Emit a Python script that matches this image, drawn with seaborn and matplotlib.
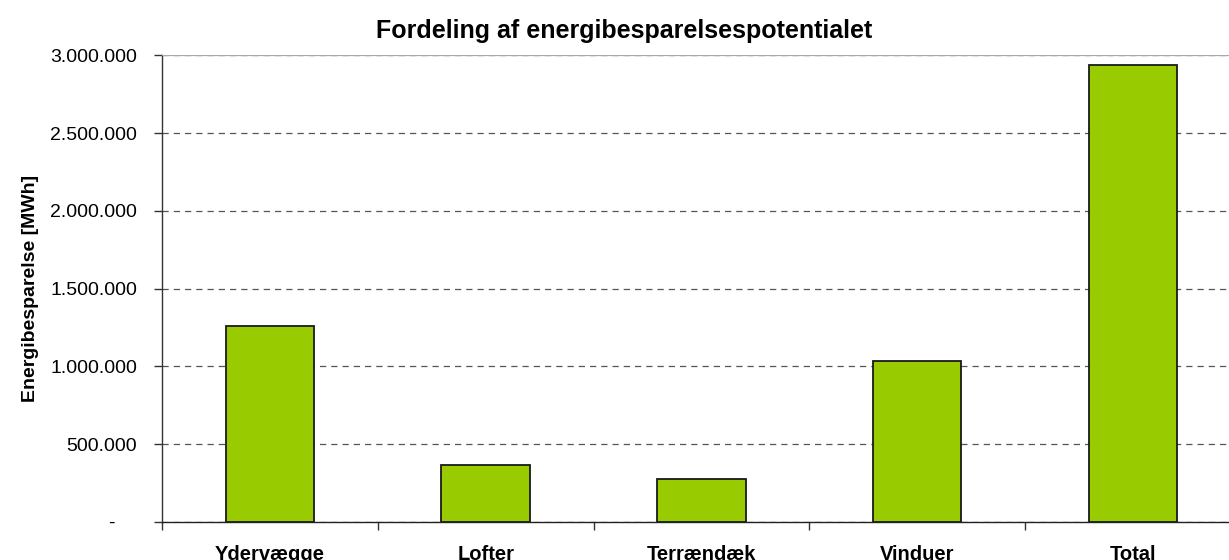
import numpy as np
import pandas as pd
import seaborn as sns
import matplotlib.pyplot as plt
from matplotlib.ticker import FuncFormatter, FixedLocator

categories = ['Ydervægge', 'Lofter', 'Terrændæk', 'Vinduer', 'Total']
savings = [1258000, 368000, 277000, 1035000, 2940000]
title = 'Fordeling af energibesparelsespotentialet'
ylabel = 'Energibesparelse [MWh]'

df = pd.DataFrame({'kategori': categories, 'besparelse': savings})

sns.set_style('white')
plt.rcParams['font.family'] = ['Liberation Sans', 'DejaVu Sans']
plt.rcParams['text.color'] = 'black'
plt.rcParams['xtick.color'] = 'black'
plt.rcParams['ytick.color'] = 'black'
plt.rcParams['axes.labelcolor'] = 'black'

fig = plt.figure(figsize=(12.29, 5.6), dpi=100)
# the plot area runs past the right edge of the picture, like the original
ax = fig.add_axes([0.1318, 0.0679, 0.8778, 0.8330])
ax.set_axisbelow(True)

sns.barplot(data=df, x='kategori', y='besparelse', color='#99CC00',
            edgecolor='#1a1a1a', linewidth=1.3, width=0.41, saturation=1,
            ax=ax, zorder=3)

ax.set_xlim(-0.5, len(categories) - 0.5)
ax.set_ylim(0, 3000000)
ax.set_yticks(np.arange(0, 3000001, 500000))

def thousands(v, pos):
    if v == 0:
        return '-    '
    return f'{int(v):,}'.replace(',', '.')

ax.yaxis.set_major_formatter(FuncFormatter(thousands))
ax.yaxis.grid(True, color='#555555', linestyle=(0, (5, 4)), linewidth=0.9)
ax.xaxis.grid(False)

for s in ['top', 'right']:
    ax.spines[s].set_visible(False)
ax.spines['left'].set_color('#333333')
ax.spines['bottom'].set_color('#222222')
ax.spines['left'].set_linewidth(1.0)
ax.spines['bottom'].set_linewidth(1.0)
ax.axhline(3000000, color='#aaaaaa', linewidth=1.6, zorder=2.6)

ax.tick_params(axis='y', which='major', left=True, length=6, width=1,
               color='#333333', labelsize=14, pad=12, labelcolor='black')
ax.tick_params(axis='x', which='major', bottom=False, labelsize=14.5, pad=13,
               labelcolor='black')
ax.xaxis.set_minor_locator(FixedLocator(np.arange(-0.5, len(categories) - 0.5, 1.0)))
ax.tick_params(axis='x', which='minor', bottom=True, length=6, width=1, color='#333333')
for lab in ax.get_xticklabels():
    lab.set_fontweight('bold')

ax.set_xlabel('')
ax.set_ylabel(ylabel, fontsize=14, fontweight='bold', labelpad=8, color='black')
fig.text(0.508, 0.945, title, ha='center', va='center', fontsize=18,
         fontweight='bold', color='black')

fig.savefig('out.png', dpi=100)
